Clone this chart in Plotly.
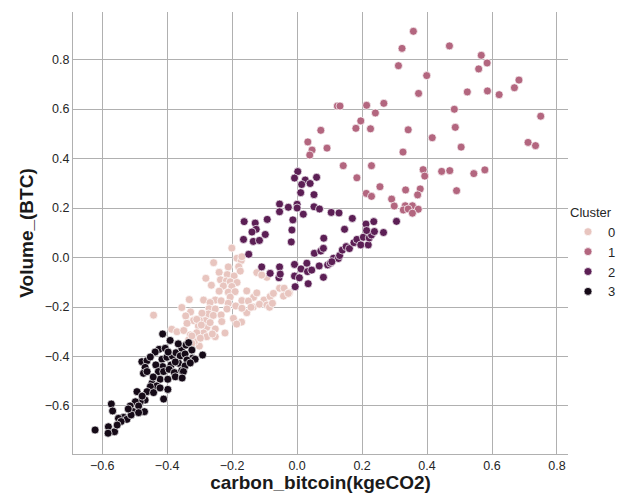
import plotly.graph_objects as go

# Cluster 0 (light pink)
c0_x = [-0.201, -0.185, -0.172, -0.257, -0.212, -0.180, -0.175, -0.240, -0.215, -0.194,
        -0.281, -0.236, -0.218, -0.206, -0.185, -0.264, -0.227, -0.201, -0.240, -0.212,
        -0.191, -0.206, -0.332, -0.288, -0.252, -0.234, -0.155, -0.134, -0.170, -0.150,
        -0.124, -0.268, -0.212, -0.189, -0.355, -0.328, -0.271, -0.252, -0.216, -0.155,
        -0.135, -0.170, -0.442, -0.343, -0.273, -0.258, -0.234, -0.283, -0.301, -0.319,
        -0.232, -0.171, -0.196, -0.186, -0.339, -0.304, -0.278, -0.252, -0.222, -0.386,
        -0.370, -0.349, -0.329, -0.288, -0.278, -0.309, -0.301, -0.252, -0.261, -0.316,
        -0.334, -0.124, -0.093, -0.109, -0.102, -0.083, -0.054, -0.040, -0.024, -0.073,
        -0.116, -0.093, -0.085, -0.076, -0.142, -0.042, -0.027, -0.170, -0.324, -0.293,
        -0.309, -0.295, -0.268, -0.309, -0.324, -0.298]
c0_y = [0.038, -0.003, -0.012, -0.021, -0.038, -0.037, -0.055, -0.060, -0.069, -0.075,
        -0.084, -0.090, -0.095, -0.098, -0.101, -0.112, -0.115, -0.117, -0.136, -0.140,
        -0.138, -0.160, -0.170, -0.172, -0.172, -0.175, -0.135, -0.161, -0.174, -0.176,
        -0.143, -0.182, -0.185, -0.196, -0.202, -0.220, -0.207, -0.208, -0.208, -0.223,
        -0.200, -0.205, -0.233, -0.236, -0.228, -0.234, -0.232, -0.255, -0.253, -0.255,
        -0.259, -0.261, -0.246, -0.269, -0.266, -0.277, -0.282, -0.289, -0.305, -0.290,
        -0.300, -0.295, -0.313, -0.305, -0.320, -0.333, -0.358, -0.320, -0.309, -0.340,
        -0.333, -0.061, -0.080, -0.071, -0.172, -0.158, -0.124, -0.124, -0.142, -0.145,
        -0.189, -0.192, -0.201, -0.185, -0.201, -0.156, -0.145, 0.003, -0.347, -0.225,
        -0.250, -0.273, -0.263, -0.304, -0.317, -0.326]

# Cluster 1 (mauve)
c1_x = [0.358, 0.323, 0.469, 0.567, 0.585, 0.559, 0.312, 0.399, 0.683, 0.669,
        0.524, 0.586, 0.622, 0.374, 0.267, 0.214, 0.124, 0.132, 0.241, 0.484,
        0.750, 0.196, 0.181, 0.226, 0.342, 0.487, 0.073, 0.416, 0.033, 0.046,
        0.039, 0.092, 0.711, 0.734, 0.505, 0.326, 0.142, 0.229, 0.388, 0.445,
        0.470, 0.544, 0.578, 0.393, 0.184, 0.255, 0.334, 0.379, 0.491, 0.213,
        0.229, 0.371, 0.291, 0.299, 0.333, 0.355, 0.327, 0.342, 0.373, 0.355]
c1_y = [0.914, 0.845, 0.855, 0.817, 0.786, 0.762, 0.775, 0.735, 0.717, 0.686,
        0.669, 0.673, 0.658, 0.663, 0.623, 0.615, 0.612, 0.612, 0.584, 0.599,
        0.571, 0.552, 0.522, 0.520, 0.516, 0.526, 0.514, 0.484, 0.467, 0.434,
        0.414, 0.442, 0.465, 0.452, 0.446, 0.426, 0.371, 0.371, 0.355, 0.348,
        0.351, 0.339, 0.354, 0.329, 0.322, 0.286, 0.273, 0.277, 0.270, 0.259,
        0.247, 0.253, 0.236, 0.208, 0.209, 0.209, 0.192, 0.196, 0.195, 0.179]

# Cluster 2 (dark purple)
c2_x = [0.002, -0.008, 0.025, 0.060, 0.014, 0.040, 0.011, 0.052, -0.054, -0.054,
        -0.027, 0.000, 0.000, 0.019, 0.052, 0.069, 0.105, 0.129, 0.170, -0.163,
        -0.129, -0.092, -0.013, -0.126, -0.139, -0.098, -0.016, -0.165, -0.135, -0.116,
        -0.018, -0.149, 0.212, 0.236, 0.306, 0.146, 0.082,
        -0.109, -0.054, -0.083, -0.056, -0.052, -0.008, -0.008, 0.007, 0.012, 0.030,
        0.032, -0.006, 0.034, 0.045, 0.068, 0.081, 0.094, 0.102, 0.112, 0.127,
        0.131, 0.107, 0.053, 0.073, 0.081, 0.139, 0.151, 0.161, 0.175, 0.184,
        0.196, 0.219, 0.204, 0.222, 0.229, 0.214, 0.238, 0.266]
c2_y = [0.347, 0.321, 0.313, 0.324, 0.295, 0.299, 0.262, 0.254, 0.216, 0.185,
        0.203, 0.215, 0.200, 0.175, 0.205, 0.196, 0.182, 0.180, 0.158, 0.145,
        0.139, 0.154, 0.152, 0.114, 0.103, 0.093, 0.111, 0.073, 0.065, 0.069,
        0.063, 0.013, 0.135, 0.145, 0.146, 0.114, 0.078,
        -0.038, -0.038, -0.064, -0.082, -0.067, -0.028, -0.075, -0.082, -0.046, -0.023,
        -0.057, -0.118, -0.106, -0.051, -0.034, -0.080, -0.030, -0.023, -0.003, -0.004,
        0.008, -0.017, 0.017, 0.026, 0.037, 0.030, 0.044, 0.036, 0.060, 0.073,
        0.051, 0.051, 0.082, 0.079, 0.091, 0.109, 0.105, 0.101]

# Cluster 3 (near black)
c3_x = [-0.414, -0.425, -0.406, -0.478, -0.462, -0.468, -0.473, -0.462, -0.416, -0.401,
        -0.384, -0.373, -0.355, -0.342, -0.334, -0.360, -0.345, -0.324, -0.322, -0.291,
        -0.314, -0.339, -0.365, -0.388, -0.414, -0.435, -0.427, -0.411, -0.394, -0.378,
        -0.355, -0.345, -0.350, -0.422, -0.398, -0.375, -0.447, -0.432, -0.398, -0.411,
        -0.452, -0.493, -0.462, -0.442, -0.468, -0.483, -0.498, -0.514, -0.488, -0.470,
        -0.504, -0.534, -0.550, -0.524, -0.542, -0.572, -0.568, -0.581, -0.562, -0.582,
        -0.622, -0.511, -0.488, -0.391, -0.366, -0.437, -0.375, -0.329, -0.397, -0.452,
        -0.354, -0.422, -0.443, -0.477, -0.520, -0.554]
c3_y = [-0.309, -0.371, -0.367, -0.421, -0.417, -0.444, -0.468, -0.461, -0.411, -0.403,
        -0.398, -0.385, -0.367, -0.354, -0.344, -0.398, -0.390, -0.374, -0.407, -0.394,
        -0.411, -0.414, -0.427, -0.434, -0.441, -0.434, -0.461, -0.461, -0.452, -0.465,
        -0.457, -0.438, -0.461, -0.492, -0.492, -0.482, -0.508, -0.519, -0.533, -0.572,
        -0.522, -0.542, -0.542, -0.546, -0.576, -0.583, -0.583, -0.600, -0.600, -0.623,
        -0.623, -0.646, -0.650, -0.654, -0.663, -0.592, -0.620, -0.684, -0.704, -0.710,
        -0.697, -0.636, -0.627, -0.335, -0.349, -0.382, -0.422, -0.426, -0.382, -0.402,
        -0.487, -0.527, -0.483, -0.560, -0.612, -0.677]

cluster_names = ["0", "1", "2", "3"]
cluster_colors = ["#e8c5bf", "#b3667f", "#5c1f55", "#150a17"]
xs = [c0_x, c1_x, c2_x, c3_x]
ys = [c0_y, c1_y, c2_y, c3_y]

x_ticks = [-0.6, -0.4, -0.2, 0.0, 0.2, 0.4, 0.6, 0.8]
y_ticks = [-0.6, -0.4, -0.2, 0.0, 0.2, 0.4, 0.6, 0.8]

fig = go.Figure()
for name, col, x, y in zip(cluster_names, cluster_colors, xs, ys):
    fig.add_trace(go.Scatter(
        x=x, y=y, mode="markers", name=name,
        marker=dict(color=col, size=8, line=dict(color="white", width=0.7)),
    ))

font_family = "Liberation Sans, Arial, sans-serif"
axis_common = dict(
    showgrid=True, gridcolor="#b0b0b0", gridwidth=1.2,
    showline=True, linecolor="#b0b0b0", linewidth=1.2,
    zeroline=False, ticks="", tickformat=".1f", automargin=False,
    tickfont=dict(family=font_family, size=12.5, color="#262626"),
)

fig.update_layout(
    width=624, height=493,
    margin=dict(l=73, r=56, t=12, b=39, autoexpand=False),
    paper_bgcolor="white", plot_bgcolor="white",
    font=dict(family=font_family, color="#262626"),
    xaxis=dict(axis_common, range=[-0.69, 0.834], tickvals=x_ticks,
               title=dict(text="carbon_bitcoin(kgeCO2)", standoff=3,
                          font=dict(family=font_family, size=19, weight="bold", color="#1a1a1a"))),
    yaxis=dict(axis_common, range=[-0.794, 0.992], tickvals=y_ticks,
               title=dict(text="Volume_(BTC)", standoff=6,
                          font=dict(family=font_family, size=19, weight="bold", color="#1a1a1a"))),
    legend=dict(
        x=1.0, y=0.575, xanchor="left", yanchor="top",
        title=dict(text="Cluster", font=dict(family=font_family, size=13, color="#262626")),
        font=dict(family=font_family, size=13, color="#262626"),
        bgcolor="rgba(0,0,0,0)", itemwidth=30, tracegroupgap=0,
    ),
    showlegend=True,
)

fig.write_html("out.html", config={"displayModeBar": False},
               post_script="document.body.style.margin='0';")
